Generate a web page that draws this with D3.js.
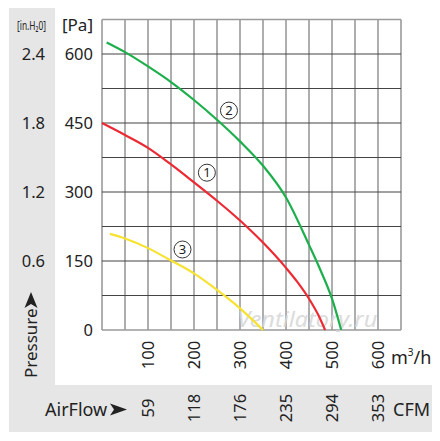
<!DOCTYPE html>
<html>
<head>
<meta charset="utf-8">
<script src="https://cdn.jsdelivr.net/npm/d3@7"></script>
<style>
  body { margin: 0; background: #fff; }
  svg { display: block; font-family: "Noto Sans", sans-serif; }
</style>
</head>
<body>
<div id="chart"></div>
<script>
// fan curves, [m3/h, Pa]
const curve1 = [[0, 450], [50, 424], [100, 396], [150, 360], [200, 321], [250, 281], [300, 238], [350, 190], [400, 135], [425, 104], [450, 68], [470, 33], [485, 0]];
const curve2 = [[10, 625], [50, 604], [100, 573], [150, 539], [200, 500], [250, 457], [300, 410], [350, 357], [400, 288], [450, 185], [475, 130], [500, 68], [520, 0]];
const curve3 = [[17, 209], [50, 199], [100, 178], [150, 151], [200, 123], [250, 87], [300, 47], [350, 0]];

const curveLabels = [
    { name: "1", flow: 228, pa: 342 },
    { name: "2", flow: 276, pa: 477 },
    { name: "3", flow: 175, pa: 175 }
];

const flowTicks = [100, 200, 300, 400, 500, 600];
const cfmLabels = ["59", "118", "176", "235", "294", "353"];
const paTicks = [0, 150, 300, 450, 600];
const inchLabels = ["", "0.6", "1.2", "1.8", "2.4"];

const width = 440, height = 441;

const svg = d3.select("#chart")
    .append("svg")
    .attr("width", width)
    .attr("height", height);

// grey panels
svg.append("path")
    .attr("d", "M9,8 H55 V385 H432 V432 H9 Z")
    .attr("fill", "#e6e6e6");

const x = d3.scaleLinear().domain([0, 650]).range([102, 401]);
const y = d3.scaleLinear().domain([0, 675]).range([330, 19.5]);

// grid
const grid = svg.append("g");
grid.selectAll(".vline")
    .data(d3.range(0, 651, 50))
    .join("line")
    .attr("x1", d => x(d)).attr("x2", d => x(d))
    .attr("y1", y(675)).attr("y2", y(0))
    .attr("stroke", "#9a9a9a")
    .attr("stroke-width", 1.6);
grid.selectAll(".hline")
    .data(d3.range(0, 676, 75))
    .join("line")
    .attr("x1", x(0)).attr("x2", x(650))
    .attr("y1", d => y(d)).attr("y2", d => y(d))
    .attr("stroke", d => (d === 0 || d === 675) ? "#9a9a9a" : "#444")
    .attr("stroke-width", d => (d === 0 || d === 675) ? 1.6 : 1.2);

// watermark
svg.append("text")
    .attr("x", x(294))
    .attr("y", 327)
    .attr("font-size", 22)
    .attr("font-style", "italic")
    .attr("fill", "#d6d6d6")
    .attr("opacity", 0.85)
    .attr("textLength", 140)
    .attr("lengthAdjust", "spacingAndGlyphs")
    .text("Ventilatory.ru");

// curves
const line = d3.line()
    .x(d => x(d[0]))
    .y(d => y(d[1]))
    .curve(d3.curveMonotoneX);

svg.append("path").datum(curve3)
    .attr("fill", "none").attr("stroke", "#f7e230").attr("stroke-width", 2.2)
    .attr("d", line);
svg.append("path").datum(curve1)
    .attr("fill", "none").attr("stroke", "#ec2a33").attr("stroke-width", 2.2)
    .attr("d", line);
svg.append("path").datum(curve2)
    .attr("fill", "none").attr("stroke", "#1daf4c").attr("stroke-width", 2.2)
    .attr("d", line);

// curve numbers
const lab = svg.selectAll(".clab")
    .data(curveLabels)
    .join("g")
    .attr("transform", d => `translate(${x(d.flow)},${y(d.pa)})`);
lab.append("circle")
    .attr("r", 8.5)
    .attr("fill", "none")
    .attr("stroke", "#333")
    .attr("stroke-width", 1);
lab.append("text")
    .attr("text-anchor", "middle")
    .attr("dy", "0.36em")
    .attr("font-size", 13)
    .attr("fill", "#222")
    .text(d => d.name);

// pressure axes
const paAxis = svg.append("g")
    .attr("transform", "translate(93,0)")
    .call(d3.axisLeft(y).tickValues(paTicks).tickSize(0).tickPadding(0));
paAxis.select(".domain").remove();
paAxis.selectAll("text")
    .attr("font-size", 16.5)
    .attr("font-family", "Noto Sans")
    .attr("fill", "#222");

const inchAxis = svg.append("g")
    .attr("transform", "translate(45,0)")
    .call(d3.axisLeft(y).tickValues(paTicks).tickSize(0).tickPadding(0)
        .tickFormat((d, i) => inchLabels[i]));
inchAxis.select(".domain").remove();
inchAxis.selectAll("text")
    .attr("font-size", 16.5)
    .attr("font-family", "Noto Sans")
    .attr("fill", "#222");

svg.append("text")
    .attr("x", 93).attr("y", 31)
    .attr("text-anchor", "end")
    .attr("font-size", 17)
    .attr("fill", "#222")
    .text("[Pa]");

svg.append("text")
    .attr("x", 17).attr("y", 30)
    .attr("font-size", 12.5)
    .attr("fill", "#222")
    .attr("textLength", 29)
    .attr("lengthAdjust", "spacingAndGlyphs")
    .text("[in.H\u20820]");

svg.append("text")
    .attr("transform", "translate(37,378) rotate(-90)")
    .attr("font-size", 17)
    .attr("fill", "#222")
    .text("Pressure");
svg.append("path")
    .attr("d", "M31,292 L37.5,308 L31,304 L24.5,308 Z")
    .attr("fill", "#222");

// flow axes
const flowAxis = svg.append("g")
    .attr("transform", "translate(0,355)")
    .call(d3.axisBottom(x).tickValues(flowTicks).tickSize(0).tickPadding(0));
flowAxis.select(".domain").remove();
flowAxis.selectAll("text")
    .attr("transform", "rotate(-90)")
    .attr("y", 0)
    .attr("dy", "0.36em")
    .attr("text-anchor", "middle")
    .attr("font-size", 16.5)
    .attr("font-family", "Noto Sans")
    .attr("fill", "#222");

const cfmAxis = svg.append("g")
    .attr("transform", "translate(0,408)")
    .call(d3.axisBottom(x).tickValues(flowTicks).tickSize(0).tickPadding(0)
        .tickFormat((d, i) => cfmLabels[i]));
cfmAxis.select(".domain").remove();
cfmAxis.selectAll("text")
    .attr("transform", "rotate(-90)")
    .attr("y", 0)
    .attr("dy", "0.36em")
    .attr("text-anchor", "middle")
    .attr("font-size", 16.5)
    .attr("font-family", "Noto Sans")
    .attr("fill", "#222");

const unit = svg.append("text")
    .attr("x", 391).attr("y", 364)
    .attr("font-size", 18)
    .attr("fill", "#222");
unit.append("tspan").text("m");
unit.append("tspan").attr("font-size", 10).attr("dy", -8).text("3");
unit.append("tspan").attr("dy", 8).text("/h");

svg.append("text")
    .attr("x", 393).attr("y", 416)
    .attr("font-size", 18)
    .attr("fill", "#222")
    .text("CFM");

svg.append("text")
    .attr("x", 45).attr("y", 416)
    .attr("font-size", 18)
    .attr("fill", "#222")
    .text("AirFlow");
svg.append("path")
    .attr("d", "M110,403.5 L127,409.5 L110,415.5 L114,409.5 Z")
    .attr("fill", "#222");
</script>
</body>
</html>
